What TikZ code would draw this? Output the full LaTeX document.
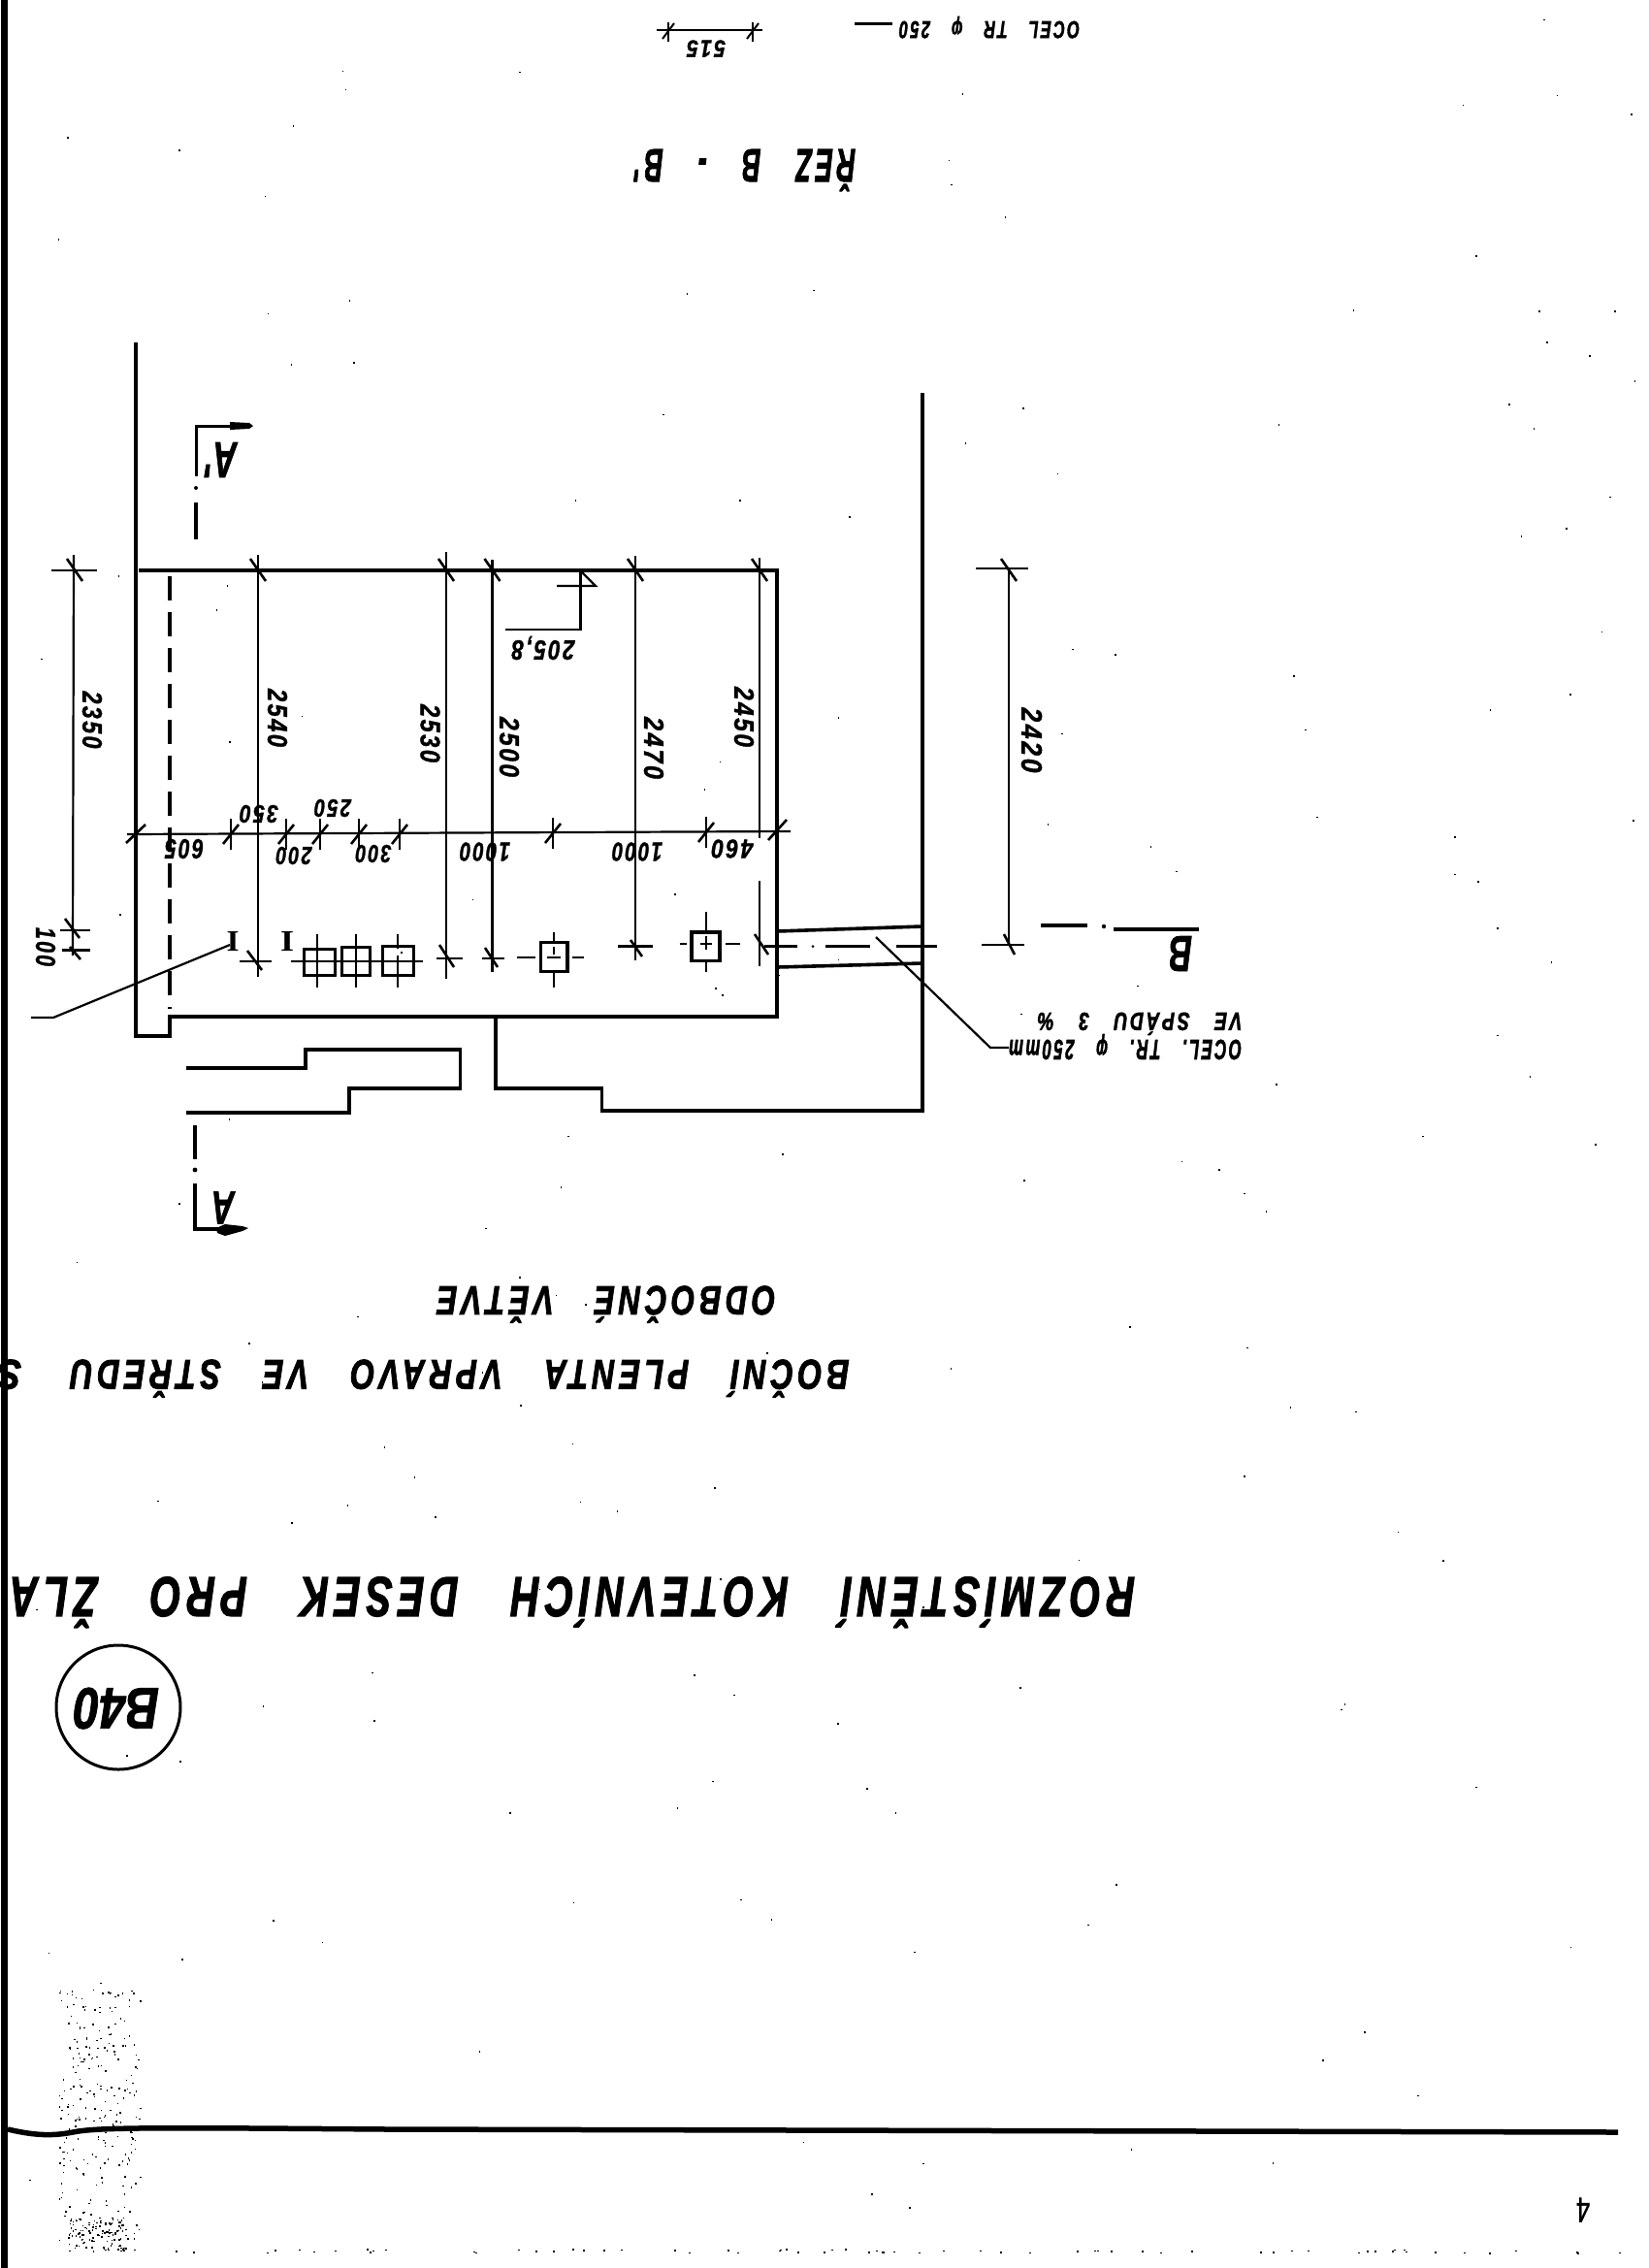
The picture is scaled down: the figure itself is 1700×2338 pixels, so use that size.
\documentclass[tikz,border=0pt]{standalone}
\usepackage{fontspec}
\usepackage{graphicx}
\newfontfamily\lett[LetterSpace=14,WordSpace=3.2,FakeBold=2.2]{Liberation Sans}
\newfontfamily\numf[LetterSpace=10,FakeBold=1.2]{Liberation Sans}
\newfontfamily\plainf[FakeBold=1.5]{Liberation Sans}
\newfontfamily\serf{Liberation Serif}
% text placed upside down, exact width and height
\newcommand{\hlab}[6]{\node[txt,rotate=180] (#1) at (#2,#3) {\resizebox{#4pt}{#5pt}{\numf\bfseries\itshape #6}};}
\newcommand{\hbld}[6]{\node[txt,rotate=180] (#1) at (#2,#3) {\resizebox{#4pt}{#5pt}{\plainf\bfseries\itshape #6}};}
\newcommand{\vlab}[6]{\node[txt,rotate=-90] (#1) at (#2,#3) {\resizebox{#4pt}{#5pt}{\numf\bfseries\itshape #6}};}
% title: name, centre x, baseline y, width, font size, text
\newcommand{\ttlb}[6]{\node[txt,anchor=base,rotate=180] (#1) at (#2,#3) {\resizebox{#4pt}{\height}{\fontsize{#5pt}{#5pt}\selectfont\lett\bfseries\itshape #6}};}
\tikzset{
  txt/.style={inner sep=0pt,outer sep=0pt,text=black},
  wall/.style={line width=4.4pt,line join=miter,line cap=butt},
  wallb/.style={line width=3.6pt},
  plate/.style={line width=3.8pt},
  dimline/.style={line width=2.2pt},
  tick/.style={line width=2.6pt},
  thin cross/.style={line width=2.2pt},
}
\begin{document}
\begin{tikzpicture}[x=1pt,y=-1pt]
\path[use as bounding box,fill=white] (0,0) rectangle (1700,2338);
% speckle of the scan
\pgfmathsetseed{11}
\foreach \i in {1,...,260}{\fill ({60+85*rnd},{2050+260*rnd}) rectangle +(1.5,1.5);}
\foreach \i in {1,...,110}{\fill ({70+60*rnd},{2285+35*rnd}) rectangle +(1.6,1.6);}
\foreach \i in {1,...,70}{\fill ({60+1640*rnd},{2318+4*rnd}) rectangle +(2,1.5);}
\foreach \i in {1,...,170}{\fill ({15+1680*rnd},{10+2280*rnd}) rectangle +(1.6,1.6);}
% main plate outline
\draw[wall] (140,353) -- (140,1068) -- (175,1068) -- (175,1048) -- (801,1048) -- (801,588) -- (143,588);
\draw[line width=3.2pt,dash pattern=on 25pt off 12pt] (175,594) -- (175,1040);
% right wall and lower walls
\draw[wallb] (951,405) -- (951,1145) -- (620.5,1145) -- (620.5,1122) -- (511,1122) -- (511,1048);
\draw[wallb] (192,1101) -- (315,1101) -- (315,1082) -- (474.5,1082) -- (474.5,1122) -- (360,1122) -- (360,1147) -- (192,1147);
% pipe
\draw[wallb] (801,960) -- (951,955);
\draw[wallb] (801,997) -- (951,993);
\draw[line width=2.4pt] (788,975.5) -- (822,975.5);
\fill (838,975.5) circle (1.5);
\draw[line width=2.4pt] (851,975.5) -- (897,975.5);
\draw[line width=2.4pt] (924,975.5) -- (966,975.5);
% section B
\draw[wallb] (1073,954) -- (1121,954);
\fill (1138,955) circle (2.2);
\draw[wallb] (1148,958) -- (1236,958);
% section A'
\draw[line width=3pt] (202,491) -- (202,439) -- (240,439);
\fill (237,435) -- (257,436) -- (261,439) -- (257,442) -- (237,443) -- cycle;
\fill (202,503) circle (2);
\draw[line width=3.4pt] (202,518) -- (202,556);
% section A
\draw[line width=3.4pt] (201,1160) -- (201,1195);
\fill (201,1206) circle (2.4);
\draw[line width=3.4pt] (201,1220) -- (201,1267) -- (228,1267);
\fill (223,1266) -- (232,1262) -- (250,1264) -- (256,1266) -- (250,1269) -- (232,1274) -- (224,1271) -- cycle;
% section mark 205,8
\draw[line width=2.4pt] (521,649) -- (598.6,649) -- (598.6,588);
\draw[line width=2.2pt] (574,604) -- (614,604) -- (600,590);
% horizontal dimension line
\draw[dimline] (131,860) -- (815,857);
\foreach \x/\y in {238/860,295/860,330/860,370/860,412/860,570/859,728/858}{
  \draw[thin cross] (\x,\y-16) -- (\x,\y+16);
  \draw[tick] (\x-8,\y+10) -- (\x+8,\y-10);
}
\draw[tick] (130,869) -- (150,850);
\draw[tick] (792,866) -- (811,845);
% vertical dimension lines
\draw[dimline] (266,572) -- (266,1007);
\draw[dimline] (460,569) -- (460,1009);
\draw[dimline] (507.5,577) -- (507.5,1002);
\draw[line width=2.6pt] (655,573) -- (655,990);
\draw[dimline] (783,575) -- (783,864);
\draw[dimline] (783,908) -- (783,996);
\draw[dimline] (1040,586) -- (1040,974);
\draw[dimline] (76,572) -- (75,985);
% top extension ends
\foreach \x in {266,460,507.5,655,783,1040,77}{
  \draw[tick] (\x-8,576) -- (\x+8,599);
}
\draw[dimline] (53,588) -- (100,588);
\draw[dimline] (1006,586) -- (1060,586);
% bottom ends
\draw[dimline] (62,959) -- (93,959);
\draw[dimline] (64,979.5) -- (93,979.5);
\draw[tick] (67,947) -- (82,967);
\draw[tick] (72,976) -- (83,989);
\draw[dimline] (247,991) -- (280,991);
\draw[tick] (255,980) -- (270,1000);
\draw[dimline] (450,988) -- (477,988);
\draw[tick] (453,974) -- (468,997);
\draw[dimline] (497,988) -- (520,988);
\draw[tick] (500,977) -- (513,997);
\draw[dimline] (637,975.5) -- (673,975.5);
\draw[tick] (650,969) -- (662,986);
\draw[tick] (778,963) -- (792,984);
\draw[dimline] (1012,974) -- (1056,974);
\draw[tick] (1035,963) -- (1046,984);
% plates
\draw[plate] (313.5,978.5) rectangle (345.5,1005.5);
\draw[plate] (352.5,976.5) rectangle (381.5,1005.5);
\draw[plate] (394.5,975.5) rectangle (426.5,1005.5);
\draw[plate] (557.5,971.5) rectangle (585,1001.5);
\draw[plate] (713,961) rectangle (742,990.5);
\draw[thin cross] (300,991) -- (436,991);
\draw[thin cross] (327,963) -- (327,1018);
\draw[thin cross] (367,963) -- (367,1018);
\draw[thin cross] (410,963) -- (410,978);
\draw[thin cross] (410,985) -- (410,1018);
\draw[line width=2.6pt] (533,987) -- (552,987);
\draw[line width=2.6pt] (564,987) -- (578,987);
\draw[line width=2.6pt] (590,987) -- (602,987);
\draw[thin cross] (571,961) -- (571,970);
\draw[thin cross] (571,976) -- (571,984);
\draw[thin cross] (571,1003) -- (571,1018);
\draw[line width=2.6pt] (700.5,973) -- (708,973);
\draw[line width=2.6pt] (722,973) -- (734,973);
\draw[line width=2.6pt] (748,973) -- (763,973);
\draw[thin cross] (728,940) -- (728,959);
\draw[thin cross] (728,965) -- (728,979);
\draw[thin cross] (728,992) -- (728,1002);
% leaders
\draw[line width=2.2pt] (237,974) -- (55,1049) -- (32,1049);
\draw[line width=2.2pt] (903,966) -- (1021,1080) -- (1040,1080);
% top fragment
\draw[line width=2.4pt] (676.5,31) -- (785.6,31);
\draw[line width=2.4pt] (689,23) -- (689,43);
\draw[line width=2.4pt] (776,23) -- (776,43);
\draw[line width=2pt] (683,40) -- (695,24);
\draw[line width=2pt] (770,40) -- (782,24);
\draw[line width=3pt] (881,24) -- (920,24);
% dimension figures
\hlab{t515}{728}{50}{40}{17}{515}
\hlab{t605}{190}{875}{40}{20}{605}
\hlab{t350}{267}{839}{40}{18}{350}
\hlab{t250}{343}{833}{38}{18}{250}
\hlab{t200}{303}{882}{37}{18}{200}
\hlab{t300}{385}{880}{37}{18}{300}
\hlab{t1000a}{500}{878}{52}{19}{1000}
\hlab{t1000b}{657}{878}{52}{19}{1000}
\hlab{t460}{755}{875}{43}{19}{460}
\hlab{t2058}{560}{668}{65}{20}{205,8}
\vlab{t2350}{95}{742}{59}{20}{2350}
\vlab{t100}{47}{976}{40}{20}{100}
\vlab{t2540}{286}{740}{60}{20}{2540}
\vlab{t2530}{443.5}{756}{60}{20}{2530}
\vlab{t2500}{525}{770}{62}{20}{2500}
\vlab{t2470}{674}{771}{64}{20}{2470}
\vlab{t2450}{767}{739}{62}{20}{2450}
\vlab{t2420}{1063.5}{763}{67}{21}{2420}
% labels
\node[txt] (ia) at (240,970) {\resizebox{13pt}{20pt}{\serf\bfseries I}};
\node[txt] (ib) at (296,970) {\resizebox{14pt}{20pt}{\serf\bfseries I}};
\hbld{la}{228}{474}{33}{36}{A'}
\hbld{lb}{230}{1245}{24}{33}{A}
\hbld{lc}{1217}{983}{24}{36}{B}
\hbld{ld}{120}{1761}{88}{42}{B40}
\draw[line width=3pt] (122,1760) ellipse (64 and 64);
\ttlb{te}{768}{154}{228}{48}{ŘEZ B - B'}
\ttlb{tf}{1020}{22}{186}{25}{OCEL TR φ 250}
\ttlb{tg}{1160}{1072}{240}{29}{OCEL. TR. φ 250mm}
\ttlb{th}{1175}{1044}{211}{26}{VE SPÁDU 3 \%}
\ttlb{ti}{625}{1326}{349}{42}{ODBOČNÉ VĚTVE}
\ttlb{tj}{474}{1402}{803}{43}{BOČNÍ PLENTA VPRAVO VE STŘEDU}
\ttlb{tk}{10}{1402}{24}{43}{S}
\ttlb{tl}{590}{1626}{1160}{58}{ROZMÍSTĚNÍ KOTEVNÍCH DESEK PRO ŽLA}
\node[txt,rotate=180] (tm) at (1632,2278) {\resizebox{14pt}{25pt}{\plainf 4}};
% frame lines of the sheet
\fill (1,0) rectangle (8,2338);
\draw[line width=5.5pt] (8,2195) .. controls (30,2200) and (50,2203) .. (75,2198) .. controls (100,2193) and (150,2193) .. (400,2195) -- (1668,2198);
\end{tikzpicture}
\end{document}
